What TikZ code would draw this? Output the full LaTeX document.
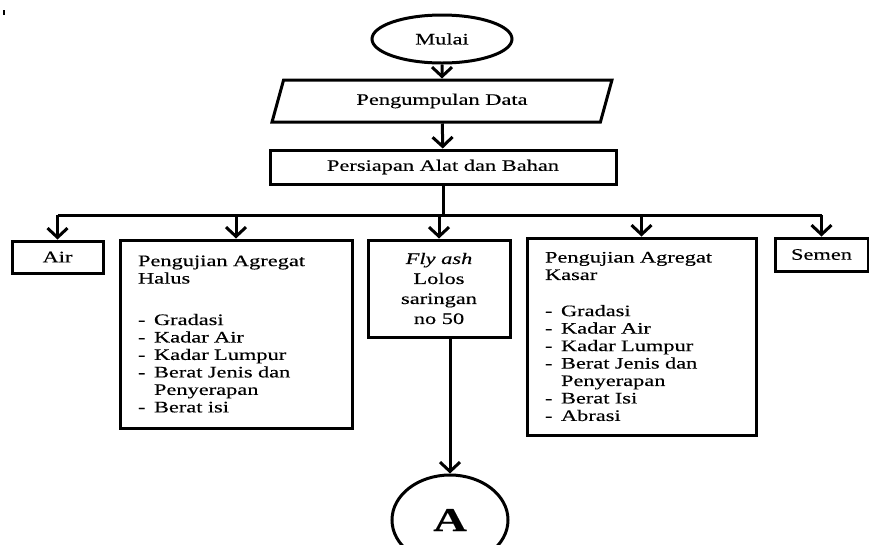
\documentclass[tikz,border=0pt]{standalone}
\usepackage{fontspec}
\setmainfont{Liberation Serif}[FakeStretch=1.4,FakeBold=0.3]
\usepackage{tikz}
\usetikzlibrary{arrows.meta,shapes.geometric}
\newcommand{\butir}[1]{\makebox[12pt][l]{-}#1}
\newcommand{\lanjut}[1]{\hspace*{12pt}#1}

\begin{document}
\begin{tikzpicture}[x=0.75pt,y=-0.75pt,>={Straight Barb[length=7pt,width=15pt]},line width=2.25pt,
  font=\fontsize{12}{13.1}\selectfont,
  box/.style={draw,rectangle,inner sep=0pt,align=center},
  listbox/.style={draw,rectangle,align=left,inner xsep=13.5pt,inner ysep=0pt},
  oval/.style={draw,ellipse,inner sep=0pt}]
\path[use as bounding box,clip] (0,0) rectangle (869,544);
\draw[line width=1.1pt] (4,10)--(4,15);
\node[oval,minimum width=105pt,minimum height=36pt] (mulai) at (442,39) {Mulai};
\node[draw,trapezium,trapezium left angle=66.8,trapezium right angle=113.2,trapezium stretches=true,minimum width=255pt,minimum height=31.5pt,inner sep=0pt] (data) at (442,101) {Pengumpulan Data};
\node[box,minimum width=259.5pt,minimum height=25.5pt] (alat) at (443,167) {Persiapan Alat dan Bahan};
\node[box,minimum width=68.25pt,minimum height=24pt] (air) at (57.5,257) {Air};
\node[listbox,text width=147pt,minimum height=141pt] (halus) at (236,334) {Pengujian Agregat\\Halus\\[18pt]
  \butir{Gradasi}\\\butir{Kadar Air}\\\butir{Kadar Lumpur}\\\butir{Berat Jenis dan}\\\lanjut{Penyerapan}\\\butir{Berat isi}};
\node[box,minimum width=106.5pt,minimum height=72.75pt,font=\fontsize{12}{15}\selectfont] (fly) at (439,288.5) {\textit{Fly ash}\\Lolos\\saringan\\no 50};
\node[listbox,text width=144.75pt,minimum height=147.75pt] (kasar) at (641.5,336.5) {Pengujian Agregat\\Kasar\\[14pt]
  \butir{Gradasi}\\\butir{Kadar Air}\\\butir{Kadar Lumpur}\\\butir{Berat Jenis dan}\\\lanjut{Penyerapan}\\\butir{Berat Isi}\\\butir{Abrasi}};
\node[box,minimum width=69.75pt,minimum height=24.75pt] (semen) at (821.5,254.5) {Semen};
\node[oval,minimum width=87pt,minimum height=67.5pt,font=\fontsize{25}{30}\selectfont\bfseries] (A) at (450,520) {A};
\coordinate (bar) at (443,215);
\draw[->] (mulai) -- (data);
\draw[->] (data) -- (alat);
\draw (alat.south) -- (bar);
\draw (air.north |- bar) -- (semen.north |- bar);
\foreach \n in {air,halus,fly,kasar,semen}
  \draw[->] (\n.north |- bar) -- (\n.north);
\draw[->] (fly.south -| A.north) -- (A.north);
\end{tikzpicture}
\end{document}
